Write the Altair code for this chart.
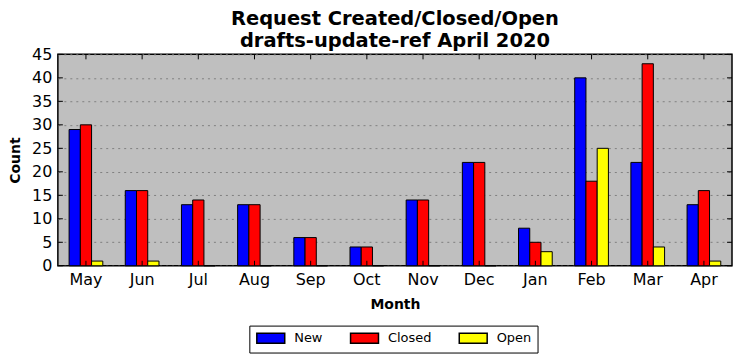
import altair as alt
import pandas as pd

months = ["May", "Jun", "Jul", "Aug", "Sep", "Oct", "Nov", "Dec", "Jan", "Feb", "Mar", "Apr"]
new_vals = [29, 16, 13, 13, 6, 4, 14, 22, 8, 40, 22, 13]
closed_vals = [30, 16, 14, 13, 6, 4, 14, 22, 5, 18, 43, 16]
open_vals = [1, 1, 0, 0, 0, 0, 0, 0, 3, 25, 4, 1]
series = ["New", "Closed", "Open"]
colors = ["#0000ff", "#ff0000", "#ffff00"]
y_ticks = [0, 5, 10, 15, 20, 25, 30, 35, 40, 45]

rows = []
for i, m in enumerate(months):
    for s, vals in zip(series, [new_vals, closed_vals, open_vals]):
        rows.append({"Month": m, "Series": s, "Count": vals[i]})
df = pd.DataFrame(rows)
ticks_df = pd.DataFrame({"Count": y_ticks})
months_df = pd.DataFrame({"Month": months})

W, H = 676, 212
font = "DejaVu Sans"

xscale = alt.Scale(domain=months, paddingInner=0.4, paddingOuter=0.2)
yscale = alt.Scale(domain=[0, 45], nice=False)

x_axis = alt.Axis(title="Month", labelAngle=0, ticks=False, labelPadding=6,
                  labelFontSize=16, titleFontSize=14, titleFontWeight="bold",
                  titlePadding=10, domain=False, grid=False)
y_axis = alt.Axis(title="Count", values=y_ticks, ticks=False, labelPadding=6,
                  labelOverlap=False, labelFlush=False,
                  labelFontSize=16, titleFontSize=14, titleFontWeight="bold",
                  titlePadding=9, domain=False, grid=True, gridColor="#7f7f7f",
                  gridDash=[2, 4], gridWidth=1)

bars = alt.Chart(df).mark_bar(stroke="black", strokeWidth=1).encode(
    x=alt.X("Month:N", sort=months, scale=xscale, axis=x_axis),
    xOffset=alt.XOffset("Series:N", sort=series, scale=alt.Scale(domain=series, paddingInner=0, paddingOuter=0)),
    y=alt.Y("Count:Q", scale=yscale, axis=y_axis),
    color=alt.Color("Series:N", sort=series,
                    scale=alt.Scale(domain=series, range=colors),
                    legend=alt.Legend(title=None, orient="none", legendX=192, legendY=272,
                                      direction="horizontal",
                                      symbolType="M-2.8,-1H2.8V1H-2.8Z", symbolSize=100,
                                      symbolOffset=9,
                                      symbolStrokeColor="black", symbolStrokeWidth=1.5,
                                      symbolOpacity=1, labelFontSize=13, labelFont=font,
                                      labelColor="black",
                                      strokeColor="black", padding=6, columnPadding=24,
                                      labelOffset=17)),
)

xt_bottom = alt.Chart(months_df).mark_rule(color="black", strokeWidth=1).encode(
    x=alt.X("Month:N", sort=months, scale=xscale, axis=x_axis), y=alt.value(H), y2=alt.value(H - 5))
xt_top = alt.Chart(months_df).mark_rule(color="black", strokeWidth=1).encode(
    x=alt.X("Month:N", sort=months, scale=xscale, axis=x_axis), y=alt.value(0), y2=alt.value(5))
yt_left = alt.Chart(ticks_df).mark_rule(color="black", strokeWidth=1).encode(
    y=alt.Y("Count:Q", scale=yscale, axis=y_axis), x=alt.value(0), x2=alt.value(5))
yt_right = alt.Chart(ticks_df).mark_rule(color="black", strokeWidth=1).encode(
    y=alt.Y("Count:Q", scale=yscale, axis=y_axis), x=alt.value(W), x2=alt.value(W - 5))

chart = alt.layer(bars, xt_bottom, xt_top, yt_left, yt_right).properties(
    width=W, height=H,
    title=alt.Title(["Request Created/Closed/Open", "drafts-update-ref April 2020"],
                    fontSize=19.5, fontWeight="bold", font=font, color="black", offset=-5,
                    lineHeight=22),
    background="white",
    padding={"left": 0, "top": 0, "right": 1, "bottom": 5},
).configure_view(fill="#bfbfbf", stroke="black", strokeWidth=1.5).configure_axis(
    labelFont=font, titleFont=font, labelColor="black", titleColor="black"
)

chart.save("out.html", embed_options={"renderer": "svg", "actions": False})
